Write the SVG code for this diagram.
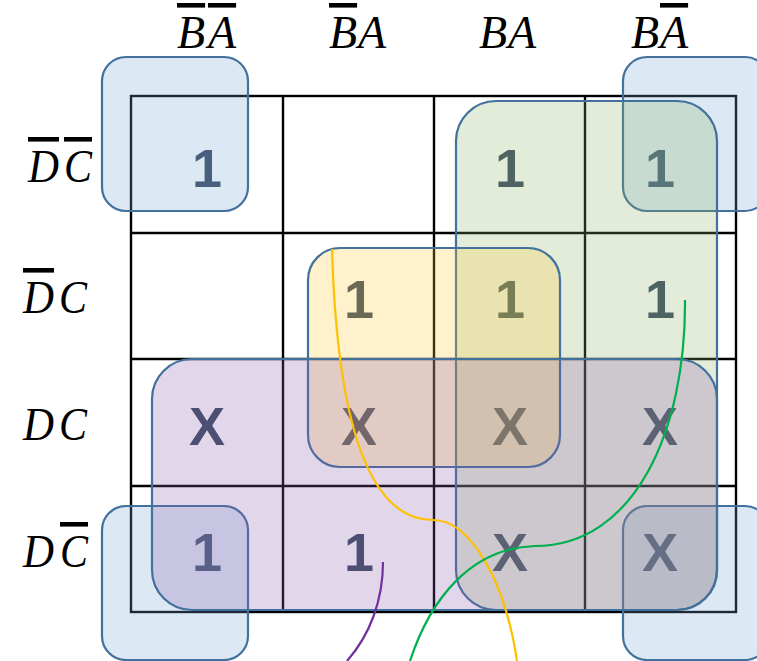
<svg xmlns="http://www.w3.org/2000/svg" width="757" height="661" viewBox="0 0 757 661">
<style>
.grid{stroke:#000;stroke-width:2.4;fill:none}
.cell{font-family:"Liberation Sans",Arial,sans-serif;font-weight:bold;font-size:54px;fill:#384A62;text-anchor:middle}
.lbl{font-family:"Liberation Serif","Times New Roman",serif;font-style:italic;font-size:46px;fill:#000}
.bar{text-decoration:overline;text-decoration-thickness:2px}
.loop{stroke:#41719C;stroke-width:2.2;fill-opacity:0.25}
.blue{fill:#73A3D3}
.green{fill:#8BB363}
.yellow{fill:#FFC733}
.purple{fill:#8B5BAB}
.wire{fill:none;stroke-width:2.2}
</style>
<rect width="757" height="661" fill="#fff"/>
<g id="col-labels">
  <g id="col-nBnA"><text class="lbl" x="177" y="48"><tspan class="bar">B</tspan></text><text class="lbl" x="208" y="48"><tspan class="bar">A</tspan></text></g>
  <g id="col-nBA"><text class="lbl" x="329" y="48"><tspan class="bar">B</tspan></text><text class="lbl" x="358" y="48">A</text></g>
  <g id="col-BA"><text class="lbl" x="479" y="48">B</text><text class="lbl" x="508" y="48">A</text></g>
  <g id="col-BnA"><text class="lbl" x="631" y="48">B</text><text class="lbl" x="660" y="48"><tspan class="bar">A</tspan></text></g>
</g>
<g id="row-labels">
  <g id="row-nDnC"><text class="lbl" x="28" y="182" textLength="31" lengthAdjust="spacingAndGlyphs"><tspan class="bar">D</tspan></text><text class="lbl" x="64" y="182" textLength="28" lengthAdjust="spacingAndGlyphs"><tspan class="bar">C</tspan></text></g>
  <g id="row-nDC"><text class="lbl" x="23" y="313" textLength="31" lengthAdjust="spacingAndGlyphs"><tspan class="bar">D</tspan></text><text class="lbl" x="59" y="313" textLength="28" lengthAdjust="spacingAndGlyphs">C</text></g>
  <g id="row-DC"><text class="lbl" x="23" y="440" textLength="31" lengthAdjust="spacingAndGlyphs">D</text><text class="lbl" x="59" y="440" textLength="28" lengthAdjust="spacingAndGlyphs">C</text></g>
  <g id="row-DnC"><text class="lbl" x="23" y="567" textLength="31" lengthAdjust="spacingAndGlyphs">D</text><text class="lbl" x="60" y="567" textLength="28" lengthAdjust="spacingAndGlyphs"><tspan class="bar">C</tspan></text></g>
</g>
<g id="grid">
  <rect class="grid" x="131" y="96" width="605" height="516"/>
  <path class="grid" d="M283,96V612M434,96V612M585,96V612M131,233H736M131,359H736M131,486H736"/>
</g>
<g id="cells">
  <g id="c00"><text class="cell" x="207" y="187">1</text></g>
  <g id="c02"><text class="cell" x="510" y="187">1</text></g>
  <g id="c03"><text class="cell" x="660" y="187">1</text></g>
  <g id="c11"><text class="cell" x="359" y="318">1</text></g>
  <g id="c12"><text class="cell" x="510" y="318">1</text></g>
  <g id="c13"><text class="cell" x="660" y="318">1</text></g>
  <g id="c20"><text class="cell" x="207" y="445">X</text></g>
  <g id="c21"><text class="cell" x="359" y="445">X</text></g>
  <g id="c22"><text class="cell" x="510" y="445">X</text></g>
  <g id="c23"><text class="cell" x="660" y="445">X</text></g>
  <g id="c30"><text class="cell" x="207" y="571">1</text></g>
  <g id="c31"><text class="cell" x="359" y="571">1</text></g>
  <g id="c32"><text class="cell" x="510" y="571">X</text></g>
  <g id="c33"><text class="cell" x="660" y="571">X</text></g>
</g>
<g id="loops">
  <g id="loop-corner-tl"><rect class="loop blue" x="102" y="57" width="146" height="154" rx="24"/></g>
  <g id="loop-corner-tr"><rect class="loop blue" x="623" y="57" width="146" height="154" rx="24"/></g>
  <g id="loop-corner-bl"><rect class="loop blue" x="102" y="506" width="146" height="154" rx="24"/></g>
  <g id="loop-corner-br"><rect class="loop blue" x="623" y="506" width="146" height="154" rx="24"/></g>
  <g id="loop-green"><rect class="loop green" x="456" y="101" width="261" height="509" rx="40"/></g>
  <g id="loop-yellow"><rect class="loop yellow" x="308" y="248" width="252" height="219" rx="32"/></g>
  <g id="loop-purple"><rect class="loop purple" x="152" y="359" width="565" height="251" rx="40"/></g>
</g>
<g id="connectors">
  <path class="wire" stroke="#FFC000" d="M332,249C337,420 368,520 433,520C470,520 505,580 517,661"/>
  <path class="wire" stroke="#00B050" d="M685,300C686,430 635,546 535,546C470,548 430,600 410,661"/>
  <path class="wire" stroke="#7030A0" d="M383,562C383,600 370,635 347,661"/>
</g>
</svg>
